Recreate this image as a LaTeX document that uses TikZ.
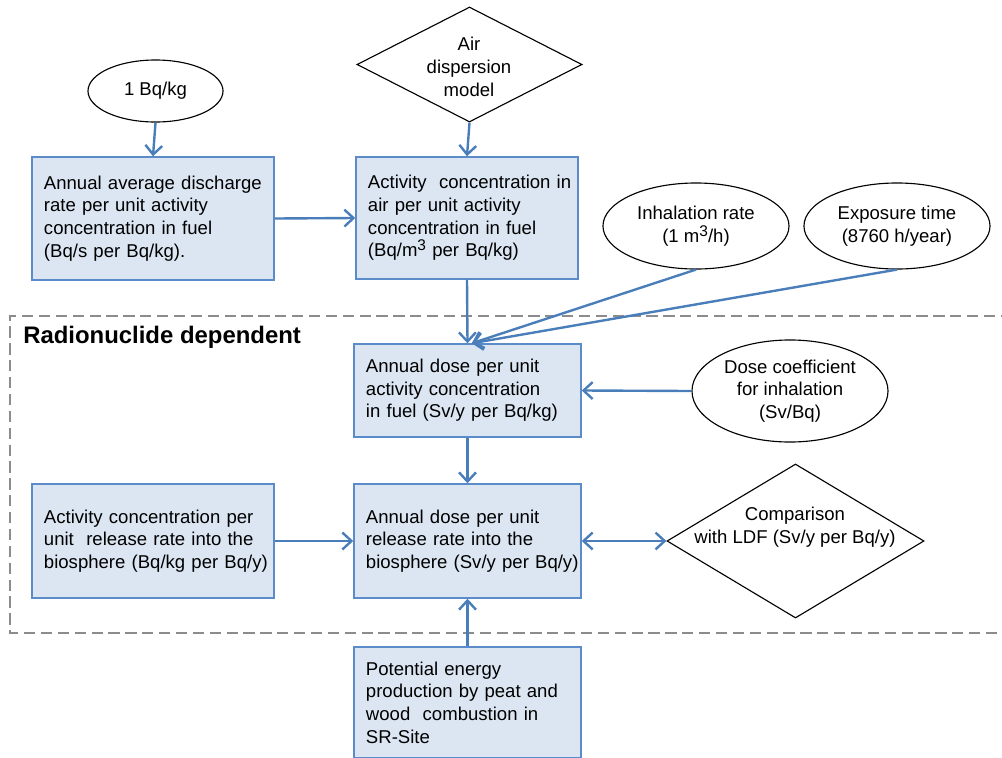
\documentclass[tikz,border=0pt]{standalone}
\usepackage{fontspec}
\setmainfont{Liberation Sans}
\usetikzlibrary{shapes.geometric,arrows.meta}
\newcommand{\bxl}[1]{\makebox[\linewidth][l]{#1}}
\newcommand{\cubed}{\raisebox{0.33em}{\fontsize{11}{11}\selectfont 3}}
\definecolor{conn}{HTML}{4A7EBB}
\definecolor{boxfill}{HTML}{DCE6F2}
\definecolor{boxline}{HTML}{5B8BC9}
\definecolor{dashgray}{HTML}{8C8C8C}
\begin{document}
\begin{tikzpicture}[x=0.025cm,y=-0.025cm,
  txt/.style={font=\fontsize{13.2}{16.1}\selectfont},
  box/.style={txt, rectangle, draw=boxline, line width=1pt, fill=boxfill,
    align=left, inner xsep=0.3cm, inner ysep=0pt},
  ell/.style={txt, ellipse, draw=black, line width=0.8pt, fill=white,
    align=center, inner sep=0pt},
  dia/.style={diamond, draw=black, line width=0.8pt, fill=white, inner sep=0pt},
  lbl/.style={txt, align=center, inner sep=0pt},
  conn/.style={draw=conn, line width=1.7pt,
    -{Straight Barb[length=6.5pt,width=12pt,line width=1.7pt]}},
  conn2/.style={draw=conn, line width=1.7pt,
    {Straight Barb[length=6.5pt,width=12pt,line width=1.7pt]}-{Straight Barb[length=6.5pt,width=12pt,line width=1.7pt]}},
  region/.style={draw=dashgray, line width=1.6pt, dash pattern=on 8pt off 4pt}
]
\useasboundingbox (0,0) rectangle (1002,758);

% dashed region
\draw[region] (1012,316) -- (10,316) -- (10,633) -- (1012,633);
\node[anchor=west, inner sep=0pt, font=\fontsize{17}{20}\selectfont\bfseries] (title) at (23,337) {Radionuclide dependent};

% nodes
\node[ell, minimum width=3.375cm, minimum height=1.55cm] (e1) at (155.5,91) {1 Bq/kg};
\node[dia, minimum width=5.625cm, minimum height=2.875cm] (d1) at (469.5,64.5) {};
\node[lbl] (t1) at (469,67) {Air\\dispersion\\model};

\node[box, text width=5.45cm, minimum height=3.075cm] (b1) at (153,218.5) {%
\bxl{Annual average discharge}\\
\bxl{rate per unit activity}\\
\bxl{concentration in fuel}\\
\bxl{(Bq/s per Bq/kg).}};

\node[box, text width=4.95cm, minimum height=3.05cm] (b2) at (467,218) {%
\bxl{Activity\ \ concentration in}\\
\bxl{air per unit activity}\\
\bxl{concentration in fuel}\\
\bxl{(Bq/m\cubed\ per Bq/kg)}};

\node[ell, minimum width=4.65cm, minimum height=2.15cm] (e2) at (696,226) {Inhalation rate\\(1 m\cubed/h)};
\node[ell, minimum width=4.65cm, minimum height=2.15cm] (e3) at (897,226) {Exposure time\\(8760 h/year)};

\node[box, text width=5.075cm, minimum height=2.325cm] (b3) at (467.5,390.5) {%
\bxl{Annual dose per unit}\\
\bxl{activity concentration}\\
\bxl{in fuel (Sv/y per Bq/kg)}};

\node[ell, minimum width=4.9cm, minimum height=2.55cm] (e4) at (790,391) {Dose coefficient\\for inhalation\\(Sv/Bq)};

\node[box, text width=5.45cm, minimum height=2.85cm] (b5) at (153,541) {%
\bxl{Activity concentration per}\\
\bxl{unit\ \ release rate into the}\\
\bxl{biosphere (Bq/kg per Bq/y)}\\[3pt]};

\node[box, text width=5.075cm, minimum height=2.85cm] (b4) at (467.5,541) {%
\bxl{Annual dose per unit}\\
\bxl{release rate into the}\\
\bxl{biosphere (Sv/y per Bq/y)}\\[3pt]};

\node[dia, minimum width=6.425cm, minimum height=3.85cm] (d2) at (795.5,541) {};
\node[lbl] (t2) at (795,527) {Comparison\\with LDF (Sv/y per Bq/y)};

\node[box, text width=5.075cm, minimum height=2.775cm] (b6) at (467.5,702.5) {%
\bxl{Potential energy}\\
\bxl{production by peat and}\\
\bxl{wood\ \ combustion in}\\
\bxl{SR-Site}};

% connectors
\draw[conn] (e1.south) -- (b1.north);
\draw[conn] (d1.south) -- (b2.north);
\draw[conn] (b1.east) -- (b2.west);
\draw[conn] (b2.south) -- (b3.north);
\draw[conn] (e2.south) -- ([xshift=3pt]b3.north);
\draw[conn] (e3.south) -- ([xshift=3pt]b3.north);
\draw[conn] (e4.west) -- (b3.east);
\draw[conn] (b3.south) -- (b4.north);
\draw[conn] (b5.east) -- (b4.west);
\draw[conn2] (b4.east) -- (d2.west);
\draw[conn] (b6.north) -- (b4.south);
\end{tikzpicture}
\end{document}
